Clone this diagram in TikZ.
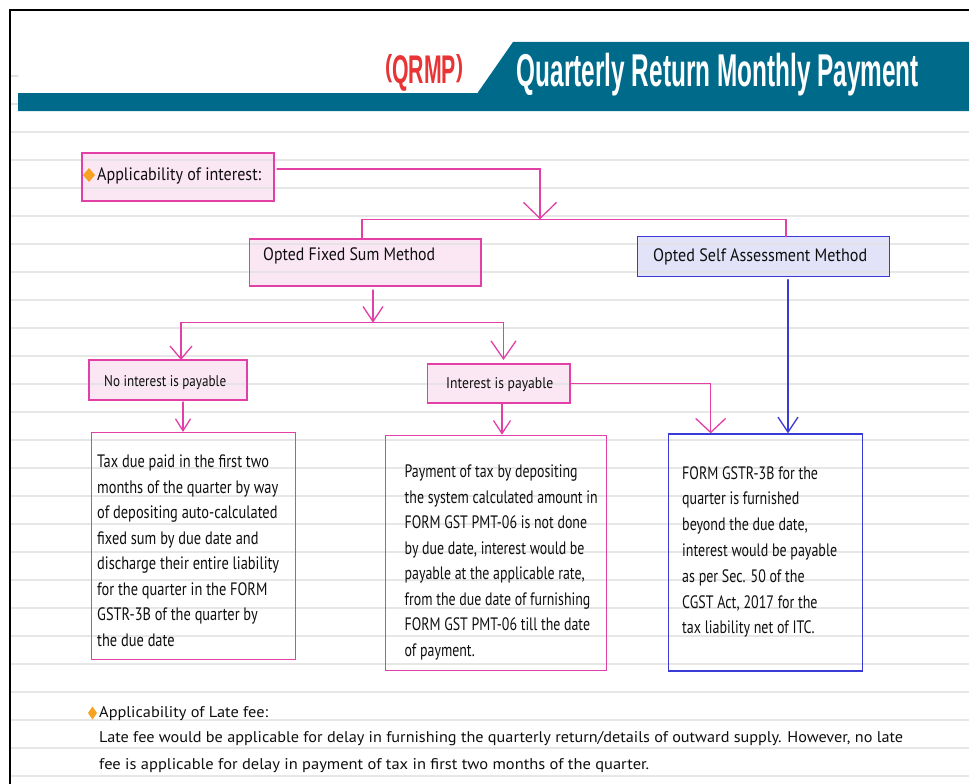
\documentclass[tikz,border=0pt]{standalone}
\usepackage{graphicx}
\usepackage{fontspec}
\setmainfont{PT Sans}
\newfontfamily\headfont{Liberation Sans}
\usetikzlibrary{arrows.meta,calc}

\definecolor{pk}{RGB}{226,64,166}
\definecolor{pkfill}{RGB}{251,230,243}
\definecolor{bl}{RGB}{58,58,214}
\definecolor{blfill}{RGB}{226,226,248}
\definecolor{rulegray}{RGB}{226,226,226}
\definecolor{teal}{RGB}{0,106,138}
\definecolor{qred}{RGB}{232,52,52}
\definecolor{gem}{RGB}{247,162,32}
\definecolor{ink}{RGB}{15,15,15}

% stretch a box to a given width, keeping its height
\newcommand{\fitw}[2]{\resizebox{#1}{\height}{#2}}
\newcommand{\txtblock}[1]{\begin{tabular}[t]{@{}l@{}}#1\end{tabular}}
% parenthesis squeezed to cap height
\newcommand{\cparen}[1]{\raisebox{6.4pt}{\scalebox{1}[0.76]{#1}}}

\tikzset{
  rulerline/.style={draw=rulegray, line width=1.2pt},
  pbox/.style={fill=pkfill, rectangle, inner sep=0pt, outer sep=0pt, anchor=north west},
  bbox/.style={fill=blfill, rectangle, inner sep=0pt, outer sep=0pt, anchor=north west},
  pframe/.style={draw=pk, line width=1.3pt, rectangle, inner sep=0pt, anchor=north west},
  bframe/.style={draw=bl, line width=1.3pt, rectangle, inner sep=0pt, anchor=north west},
  pline/.style={draw=pk, line width=1.3pt},
  bline/.style={draw=bl, line width=1.3pt},
  txt/.style={inner sep=0pt, anchor=base west, text=ink},
  big/.style={font=\fontsize{18}{25.5}\selectfont},
  mid/.style={font=\fontsize{15.5}{25.5}\selectfont},
}

\begin{document}
\begin{tikzpicture}[x=1pt, y=-1pt, line cap=round]
\useasboundingbox (0,0) rectangle (969,784);
\fill[white] (0,0) rectangle (969,784);

% tinted boxes (filled first, so the ruled lines show through)
\node[pbox, minimum width=192pt, minimum height=48pt] (app) at (82,153) {};
\node[pbox, minimum width=231.7pt, minimum height=47pt] (fixed) at (249.3,239) {};
\node[bbox, minimum width=251.6pt, minimum height=40pt] (self) at (637.7,236.7) {};
\node[pbox, minimum width=158pt, minimum height=40pt] (noint) at (89,360) {};
\node[pbox, minimum width=142.5pt, minimum height=39pt] (int) at (427.5,364) {};

% ruled paper
\foreach \k in {0,...,23} \draw[rulerline, opacity=0.8] (10,{132+28*\k}) -- (969,{132+28*\k});
\draw[rulerline] (10,76) -- (18,76);
\draw[rulerline] (10,104) -- (18,104);

% outlines of the tinted boxes, on top of the ruling
\foreach \b/\c in {app/pk, fixed/pk, self/bl, noint/pk, int/pk}
  \draw[\c, line width=1.3pt, line join=miter] (\b.north west) rectangle (\b.south east);
% plain text frames
\node[pframe, minimum width=204pt, minimum height=227pt] (tax) at (91,432) {};
\node[pframe, minimum width=221pt, minimum height=235.3pt] (pay) at (385,434.7) {};
\node[bframe, minimum width=194pt, minimum height=237pt] (gstr) at (668,433.3) {};

% header banner
\fill[teal] (477.5,93) -- (513,42) -- (969,42) -- (969,111) -- (18,111) -- (18,93) -- cycle;
\node[inner sep=0pt, anchor=base west, text=qred, font=\headfont\bfseries\fontsize{40}{40}\selectfont]
  (qrmp) at (385,83) {\fitw{78pt}{\cparen{(}QRMP\cparen{)}}};
\node[inner sep=0pt, anchor=base west, text=white, font=\headfont\bfseries\fontsize{46}{46}\selectfont]
  (title) at (516.7,86) {\fitw{402pt}{Quarterly Return Monthly Payment}};

% connectors
\coordinate (j1) at (540,219.3);
\coordinate (j2) at (373,322.7);
\draw[pline, -{Straight Barb[length=16pt,width=33pt]}] ($(app.north east)+(3,16)$) -| (j1);
\draw[pline] ([xshift=-3.15pt]fixed.north) |- (j1) -| ([xshift=22.5pt]self.north);
\draw[pline, -{Straight Barb[length=15pt,width=20pt]}] ([xshift=7.85pt,yshift=-4pt]fixed.south) -- (j2);
\draw[pline, -{Straight Barb[length=13pt,width=22pt]}] (j2) -| ([xshift=13pt]noint.north);
\draw[pline, -{Straight Barb[length=18pt,width=25pt]}] (j2) -| ([xshift=4.75pt,yshift=4pt]int.north);
\draw[pline, -{Straight Barb[length=12pt,width=15pt]}] ([xshift=15pt,yshift=-2pt]noint.south) -- ([xshift=15pt]noint.south |- tax.north);
\draw[pline, -{Straight Barb[length=13pt,width=17pt]}] ([xshift=3.25pt]int.south) -- ([xshift=3.25pt]int.south |- pay.north);
\draw[pline, -{Straight Barb[length=14pt,width=30pt]}] (int.east) -| ([xshift=-55pt]gstr.north);
\draw[bline, -{Straight Barb[length=15pt,width=20pt]}] ([xshift=24.5pt,yshift=-3pt]self.south) -- ([xshift=24.5pt]self.south |- gstr.north);

% bullets
\fill[gem] (89,168) -- (95,175) -- (89,182) -- (83,175) -- cycle;
\fill[gem] (92.5,706.5) -- (97,713) -- (92.5,719.5) -- (88,713) -- cycle;

% labels
\node[txt, big] (tapp) at (97,180.5) {\fitw{164pt}{Applicability of interest:}};
\node[txt, big] (tfixed) at (263,260.5) {\fitw{172pt}{Opted Fixed Sum Method}};
\node[txt, big] (tself) at (653,261) {\fitw{214pt}{Opted Self Assessment Method}};
\node[txt, mid] (tnoint) at (104,386) {\fitw{122pt}{No interest is payable}};
\node[txt, mid] (tint) at (446,388) {\fitw{107pt}{Interest is payable}};

\node[txt, big] (ttax) at (97,467.5) {\fitw{182pt}{\txtblock{%
  Tax due paid in the first two\\
  months of the quarter by way\\
  of depositing auto-calculated\\
  fixed sum by due date and\\
  discharge their entire liability\\
  for the quarter in the FORM\\
  GSTR-3B of the quarter by\\
  the due date}}};

\node[txt, big] (tpay) at (404.5,477.5) {\fitw{193pt}{\txtblock{%
  Payment of tax by depositing\\
  the system calculated amount in\\
  FORM GST PMT-06 is not done\\
  by due date, interest would be\\
  payable at the applicable rate,\\
  from the due date of furnishing\\
  FORM GST PMT-06 till the date\\
  of payment.}}};

\node[txt, font=\fontsize{18}{25.8}\selectfont] (tgstr) at (682,479) {\fitw{155pt}{\txtblock{%
  FORM GSTR-3B for the\\
  quarter is furnished\\
  beyond the due date,\\
  interest would be payable\\
  as per Sec. 50 of the\\
  CGST Act, 2017 for the\\
  tax liability net of ITC.}}};

\node[txt, mid] (tlate) at (99,717.5) {\fitw{169pt}{Applicability of Late fee:}};
\node[txt, mid] (tbody1) at (99,742.5) {\fitw{804pt}{Late fee would be applicable for delay in furnishing the quarterly return/details of outward supply. However, no late}};
\node[txt, mid] (tbody2) at (99,769.5) {\fitw{550pt}{fee is applicable for delay in payment of tax in first two months of the quarter.}};

% page frame
\draw[black, line width=2pt, line cap=butt, line join=miter] (10,784) -- (10,10) -- (969,10);
\end{tikzpicture}
\end{document}
